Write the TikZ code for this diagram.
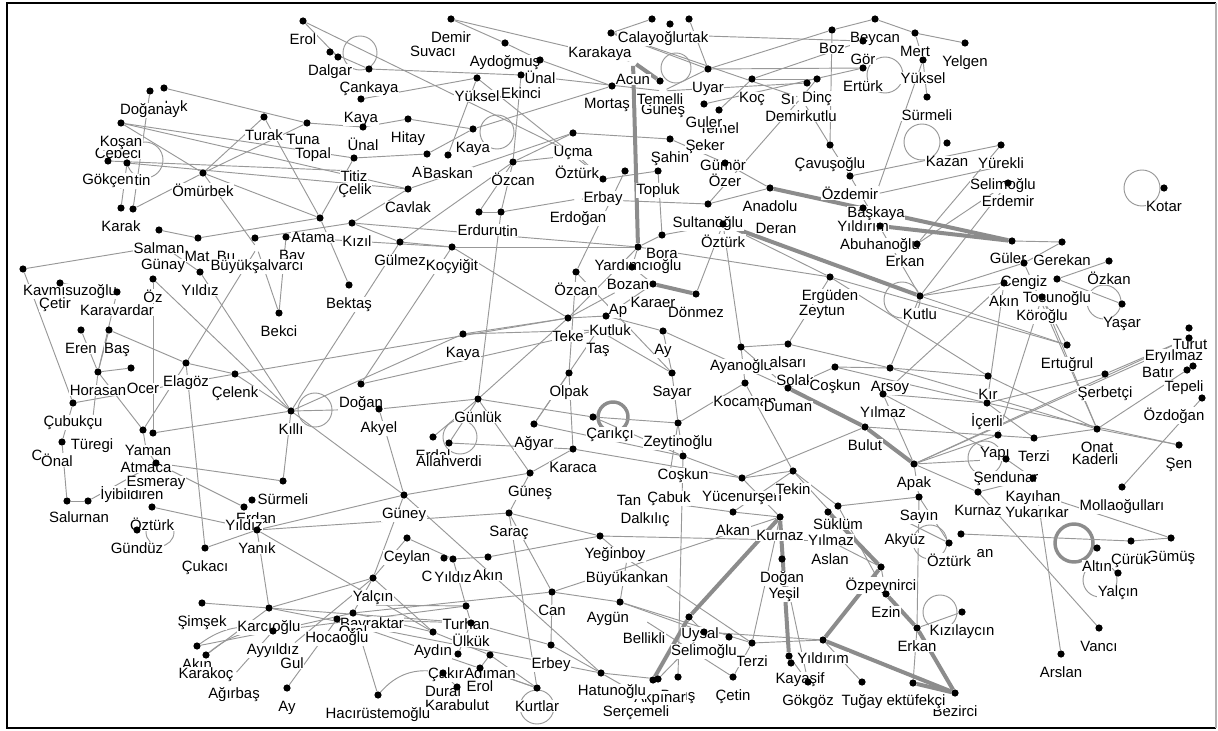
\documentclass[tikz,border=0pt]{standalone}
\usepackage{fontspec}
\setmainfont{Liberation Sans}
\usetikzlibrary{calc}
\pgfdeclarelayer{back}
\pgfdeclarelayer{bg}
\pgfdeclarelayer{fg}
\pgfsetlayers{back,bg,main,fg}
\definecolor{edgec}{RGB}{152,152,152}
\definecolor{thickc}{RGB}{140,140,140}
\newcommand\lblfont{\fontsize{11.2}{13}\selectfont}
\tikzset{
  dotn/.style={circle,fill=black,inner sep=0pt,minimum size=5.4pt},
  hidn/.style={circle,inner sep=0pt,minimum size=5.4pt},
  lbl/.style={font=\lblfont,fill=white,inner sep=0.4pt,anchor=base},
  ed/.style={draw=edgec,line width=0.7pt},
  thk/.style={draw=thickc,line width=3pt},
  lp/.style={draw=edgec,line width=0.7pt},
  lpt/.style={draw=thickc,line width=2.6pt},
}
\newcommand\vtx[4]{\begin{pgfonlayer}{fg}\node[dotn] (#1) at (#2,#3) {};\end{pgfonlayer}\node[lbl] (#1-l) at (#2,#3+23.5) {#4};}
\newcommand\vtxl[6]{\begin{pgfonlayer}{fg}\node[dotn] (#1) at (#2,#3) {};\end{pgfonlayer}\node[lbl] (#1-l) at (#4,#5+5.5) {#6};}
\newcommand\vtxh[4]{\node[hidn] (#1) at (#2,#3) {};\node[lbl] (#1-l) at (#2,#3+23.5) {#4};}
\newcommand\vtxhl[6]{\node[hidn] (#1) at (#2,#3) {};\node[lbl] (#1-l) at (#4,#5+5.5) {#6};}
\newcommand\vtxn[3]{\begin{pgfonlayer}{fg}\node[dotn] (#1) at (#2,#3) {};\end{pgfonlayer}}
\newcommand\lbo[4]{\node[lbl] (#1) at (#2,#3+5.5) {#4};}
\newcommand\lpc[3]{\begin{pgfonlayer}{bg}\draw[lp] (#1,#2) circle[radius=#3*0.75pt];\end{pgfonlayer}}
\newcommand\lpct[3]{\begin{pgfonlayer}{bg}\draw[lpt] (#1,#2) circle[radius=#3*0.75pt];\end{pgfonlayer}}
\begin{document}
\begin{tikzpicture}[x=0.75pt,y=-0.75pt]
\useasboundingbox (0,0) rectangle (1218,731);
\begin{pgfonlayer}{back}
\fill[white] (0,0) rectangle (1218,731);
\end{pgfonlayer}
% ---------- top-left
\vtx{erol}{303}{21}{Erol}
\vtx{dlga}{330}{52}{Dalgar}
\vtxn{dlgb}{338}{57}
\vtx{cank}{369}{69}{Çankaya}
\vtx{kayaA}{361}{99}{Kaya}
\vtx{unalA}{363}{127}{Ünal}
\vtx{hitay}{408}{119}{Hitay}
\vtxh{topal}{313}{135}{Topal}
\vtxl{tuna}{307}{123}{303}{139}{Tuna}
\vtxh{celik}{355}{171}{Çelik}
\vtx{titiz}{354}{158}{Titiz}
\vtx{turak}{264}{117}{Turak}
\vtx{omur}{203}{173}{Ömürbek}
\vtxl{dogk}{164}{88}{176}{106}{Işık}
\vtx{doga}{150}{91}{Doğanay}
\lbo{cebeciL}{118}{153}{Cebeci}
\vtx{kosan}{121}{123}{Koşan}
\vtxl{gin}{127}{163}{133}{180}{Çetin}
\vtx{gokcen}{108}{161}{Gökçen}
\vtx{karak}{121}{208}{Karak}
\vtxn{karakB}{133}{209}
\vtx{salman}{159}{230}{Salman}
\vtxl{mat}{198}{238}{197}{256}{Mat}
\vtxl{bu}{255}{238}{226}{256}{Bu}
\vtxl{bay}{286}{237}{292}{255}{Bay}
\vtxh{gunay}{163}{246}{Günay}
\vtxhl{buyuk}{257}{248}{257}{265}{Büyükşalvarcı}
\vtxl{atama}{320}{218}{313}{237}{Atama}
\vtxl{kizil}{352}{223}{357}{241}{Kızıl}
\vtx{yildizA}{200}{272}{Yıldız}
\vtx{oz}{153}{279}{Öz}
\vtxl{kavm}{23}{269}{70}{290}{Kavmısuzoğlu}
\vtxl{cetir}{60}{283}{55}{303}{Çetir}
\vtx{karav}{117}{292}{Karavardar}
\vtx{eren}{81}{330}{Eren}
\vtxl{bas}{109}{330}{117}{348}{Baş}
\vtxl{ocer}{131}{368}{143}{388}{Ocer}
\vtx{horasan}{98}{372}{Horasan}
\vtx{elagoz}{186}{363}{Elagöz}
\vtx{celenk}{235}{374}{Çelenk}
\vtx{cubuk}{73}{403}{Çubukçu}
\vtx{killi}{291}{411}{Kıllı}
\vtxn{yamanB}{153}{433}
\vtxl{yaman}{143}{430}{148}{450}{Yaman}
\vtxh{turegi}{92}{426}{Türegi}
\lbo{cL}{37}{455}{C}
\vtxl{onal}{62}{442}{57}{461}{Önal}
\vtxh{atmaca}{146}{449}{Atmaca}
\vtxh{iyibil}{132}{476}{İyibildiren}
\vtx{esmeray}{156}{463}{Esmeray}
\vtxl{salur}{67}{501}{79}{517}{Salurnan}
\vtxn{salB}{88}{501}
\vtx{ozturkA}{152}{507}{Öztürk}
\vtx{gunduz}{137}{530}{Gündüz}
\vtx{cukaci}{205}{548}{Çukacı}
\vtx{surmeliA}{283}{481}{Sürmeli}
\vtxl{erdan}{252}{500}{256}{518}{Erdan}
\vtx{yildizB}{244}{507}{Yıldız}
\vtx{yanik}{257}{530}{Yanık}
\vtx{simsek}{202}{603}{Şimşek}
\vtx{karci}{269}{608}{Karcıoğlu}
\vtx{akinA}{197}{646}{Akın}
\vtx{karakoc}{206}{655}{Karakoç}
\vtx{ayyildiz}{273}{631}{Ayyıldız}
\vtxh{gul}{292}{645}{Gul}
\vtxh{agirbas}{234}{675}{Ağırbaş}
\vtx{ayA}{287}{688}{Ay}
% ---------- middle-left
\vtx{bektas}{349}{285}{Bektaş}
\vtx{bekci}{279}{313}{Bekci}
\vtx{gulmez}{400}{242}{Gülmez}
\vtx{kocyigit}{452}{247}{Koçyiğit}
\vtx{cavlak}{408}{189}{Cavlak}
\vtx{akB}{427}{154}{Akın}
\vtx{baskan}{448}{155}{Baskan}
\vtx{kayaB}{473}{129}{Kaya}
\vtx{ozcanA}{513}{162}{Özcan}
\vtx{ucma}{573}{133}{Uçma}
\vtxh{ozturkB}{577}{155}{Öztürk}
\vtx{erbay}{603}{179}{Erbay}
\vtxn{xfive}{625}{171}
\vtxh{erdogan}{578}{199}{Erdoğan}
\vtxl{erduru}{479}{212}{480}{230}{Erduru}
\vtxl{xtin}{501}{212}{510}{231}{tin}
% ---------- top-middle
\vtx{demir}{451}{19}{Demir}
\vtxh{suvaci}{433}{33}{Suvacı}
\vtx{aydog}{505}{43}{Aydoğmuş}
\vtx{unalB}{540}{60}{Ünal}
\vtx{yukselA}{477}{78}{Yüksel}
\vtx{ekinci}{521}{75}{Ekinci}
\vtxl{karakaya}{611}{33}{600}{52}{Karakaya}
\vtxn{calB}{670}{24}
\vtxl{ortak}{689}{19}{690}{37}{Ortak}
\vtxl{calay}{652}{19}{651}{37}{Calayoğlu}
\vtxhl{acun}{633}{62}{633}{79}{Acun}
\vtxl{mortas}{612}{86}{607}{103}{Mortaş}
\vtxh{gunesA}{663}{91}{Güneş}
\vtx{temelli}{660}{81}{Temelli}
\vtx{uyar}{708}{69}{Uyar}
\vtx{temel}{719}{110}{Temel}
\vtx{guler}{704}{104}{Guler}
\vtxh{seker}{705}{127}{Şeker}
\vtxh{gumor}{723}{147}{Gümör}
\vtx{sahin}{670}{139}{Şahin}
\vtx{ozer}{725}{163}{Özer}
\vtx{topluk}{658}{171}{Topluk}
\vtx{koc}{752}{79}{Koç}
\vtxl{si}{807}{83}{788}{99}{Sı}
\vtxh{demirk}{801}{98}{Demirkutlu}
\vtx{dinc}{817}{79}{Dinç}
\vtx{boz}{832}{30}{Boz}
\vtx{beycan}{875}{19}{Beycan}
\vtx{erturk}{863}{68}{Ertürk}
\vtx{gor}{863}{41}{Gör}
\vtx{mert}{915}{33}{Mert}
\vtx{yelgen}{965}{43}{Yelgen}
\vtx{yukselB}{923}{60}{Yüksel}
\vtx{surmeliB}{927}{97}{Sürmeli}
\vtx{kazan}{947}{143}{Kazan}
\vtx{yurekli}{1001}{145}{Yürekli}
\vtxh{selimA}{1003}{166}{Selimoğlu}
\vtx{erdemir}{1008}{183}{Erdemir}
\vtx{kotar}{1164}{188}{Kotar}
\vtx{cavus}{830}{145}{Çavuşoğlu}
\vtx{ozdemir}{850}{176}{Özdemir}
\vtxh{baskaya}{876}{194}{Başkaya}
\vtx{yildirimA}{863}{208}{Yıldırım}
\vtx{abuhan}{880}{226}{Abuhanoğlu}
\vtxh{deran}{776}{210}{Deran}
\vtx{anadolu}{770}{188}{Anadolu}
\vtx{sultan}{708}{204}{Sultanoğlu}
\vtx{ozturkC}{723}{224}{Öztürk}
\vtx{bora}{662}{235}{Bora}
\vtx{yardim}{638}{247}{Yardımcıoğlu}
\vtxl{bozan}{632}{267}{628}{284}{Bozan}
\vtxh{ap}{618}{291}{Ap}
\vtx{karaer}{653}{284}{Karaer}
\vtx{donmez}{696}{294}{Dönmez}
\vtxh{tas}{598}{330}{Taş}
\vtxl{kutluk}{606}{316}{610}{330}{Kutluk}
\vtx{teke}{568}{318}{Teke}
\vtx{ozcanB}{576}{272}{Özcan}
\vtx{ayB}{663}{331}{Ay}
\vtx{sayar}{672}{373}{Sayar}
\vtx{ayanoglu}{741}{347}{Ayanoğlu}
\vtxh{solak}{795}{362}{Solak}
\vtx{alsari}{788}{344}{alsarı}
\vtx{kocaman}{745}{383}{Kocaman}
\vtx{duman}{788}{388}{Duman}
\vtx{coskunA}{835}{367}{Coşkun}
\vtx{arsoy}{890}{368}{Arsoy}
\vtx{yilmazA}{883}{394}{Yılmaz}
\vtx{bulut}{865}{427}{Bulut}
\vtx{zeytin}{678}{423}{Zeytinoğlu}
\vtx{coskunB}{683}{456}{Coşkun}
\vtx{yucen}{742}{478}{Yücenurşen}
\vtx{tekin}{793}{471}{Tekin}
\vtxh{zeytun}{822}{292}{Zeytun}
\vtx{erguden}{830}{277}{Ergüden}
\vtx{kutlu}{920}{296}{Kutlu}
\vtxl{erkanA}{917}{244}{905}{261}{Erkan}
% ---------- right
\vtxl{gule}{1012}{241}{1008}{258}{Güler}
\vtx{gerekan}{1062}{242}{Gerekan}
\vtx{ozkan}{1109}{261}{Özkan}
\vtx{cengiz}{1024}{263}{Cengiz}
\vtx{tosun}{1057}{279}{Tosunoğlu}
\vtx{akinB}{1004}{283}{Akın}
\vtx{koroglu}{1042}{297}{Köroğlu}
\vtx{yasar}{1122}{304}{Yaşar}
\vtx{ertugrul}{1067}{345}{Ertuğrul}
\vtx{serbetci}{1105}{374}{Şerbetçi}
\vtxl{turut}{1189}{328}{1190}{344}{Turut}
\vtxhl{batir}{1158}{355}{1158}{372}{Batır}
\vtxl{eryilmaz}{1189}{338}{1174}{355}{Eryılmaz}
\vtxl{tepeli}{1187}{370}{1184}{386}{Tepeli}
\vtxn{xtep}{1193}{366}
\vtxl{ozdogan}{1202}{398}{1174}{415}{Özdoğan}
\vtx{kir}{988}{376}{Kır}
\vtx{icerli}{987}{403}{İçerli}
\vtxh{kaderli}{1095}{441}{Kaderli}
\vtx{onat}{1097}{429}{Onat}
\vtx{sen}{1179}{445}{Şen}
\vtx{terziA}{1034}{438}{Terzi}
\vtxl{yapi}{998}{435}{995}{452}{Yapı}
\vtx{sendunar}{1006}{459}{Şendunar}
\vtxh{yukarikar}{1037}{494}{Yukarıkar}
\vtx{kayihan}{1033}{478}{Kayıhan}
\vtx{kurnazB}{978}{492}{Kurnaz}
\vtx{molla}{1122}{487}{Mollaoğulları}
\vtx{apak}{914}{464}{Apak}
\vtx{sayin}{919}{497}{Sayın}
\vtxhl{akyuz}{905}{521}{905}{539}{Akyüz}
\vtxl{xan}{961}{534}{985}{552}{an}
\vtx{ozturkD}{949}{543}{Öztürk}
\vtx{altin}{1097}{548}{Altın}
\vtx{gumus}{1171}{538}{Gümüş}
\vtx{curuk}{1131}{541}{Çürük}
\vtx{yalcinB}{1118}{573}{Yalçın}
\vtx{vanci}{1099}{628}{Vancı}
\vtx{arslan}{1061}{654}{Arslan}
\vtx{kizilay}{962}{612}{Kızılaycın}
\vtx{erkanB}{917}{628}{Erkan}
\vtx{bezirci}{955}{693}{Bezirci}
\vtxl{tufekci}{913}{683}{916}{700}{ektüfekçi}
\vtx{tugay}{862}{682}{Tuğay}
\vtx{gokgoz}{808}{682}{Gökgöz}
\vtxl{kayasif}{789}{656}{800}{678}{Kayaşif}
\vtxn{kayasifB}{791}{663}
\vtx{yildirimB}{823}{640}{Yıldırım}
\vtx{terziB}{752}{643}{Terzi}
\vtxn{xseven}{729}{637}
\vtxl{uysal}{689}{617}{700}{633}{Uysal}
\vtx{selimB}{704}{632}{Selimoğlu}
\vtx{cetin}{733}{677}{Çetin}
\vtxl{baris}{678}{677}{678}{695}{Barış}
\vtxl{akpinar}{658}{679}{660}{697}{Akpınar}
\vtxn{xsix}{653}{680}
\vtxhl{serce}{636}{693}{636}{711}{Serçemeli}
\vtxl{hatun}{601}{673}{612}{690}{Hatunoğlu}
\vtxl{aygun}{620}{602}{608}{617}{Aygün}
\vtxh{bellikli}{644}{620}{Bellikli}
\vtx{akan}{733}{512}{Akan}
\vtx{kurnazA}{780}{517}{Kurnaz}
\vtx{suklum}{838}{506}{Süklüm}
\vtxhl{aslan}{830}{541}{830}{559}{Aslan}
\vtxl{yilmazB}{828}{512}{831}{540}{Yılmaz}
\vtxh{yesil}{784}{575}{Yeşil}
\vtx{dogan}{782}{559}{Doğan}
\vtx{ozpey}{881}{567}{Özpeynirci}
\vtx{ezin}{886}{594}{Ezin}
\vtxhl{tan}{628}{483}{629}{500}{Tan}
\vtxh{cabuk}{669}{479}{Çabuk}
\vtxh{dalkilic}{645}{500}{Dalkılıç}
\vtxl{yegin}{600}{536}{615}{553}{Yeğinboy}
\vtxh{buyukank}{627}{559}{Büyükankan}
\vtx{gunesB}{530}{473}{Güneş}
\vtx{sarac}{509}{513}{Saraç}
\vtx{guney}{404}{495}{Güney}
\vtx{ceylan}{407}{538}{Ceylan}
\vtxl{xc}{444}{558}{427}{576}{C}
\vtx{yildizC}{453}{559}{Yıldız}
\vtx{akinC}{488}{557}{Akın}
\vtx{yalcinA}{373}{578}{Yalçın}
\vtx{can}{552}{592}{Can}
\vtx{turhan}{466}{606}{Turhan}
\vtx{ulkuk}{471}{623}{Ülkük}
\vtxh{bayrak}{372}{605}{Bayraktar}
\vtx{oral}{353}{613}{Oral}
\vtx{hocaoglu}{337}{619}{Hocaoğlu}
\vtx{aydin}{433}{632}{Aydın}
\vtxl{cakir}{458}{654}{446}{673}{Çakır}
\vtx{adiman}{490}{655}{Adıman}
\vtx{erolB}{480}{668}{Erol}
\vtx{dural}{443}{673}{Dural}
\vtx{karabulut}{457}{687}{Karabulut}
\vtx{erbey}{551}{645}{Erbey}
\vtx{kurtlar}{537}{688}{Kurtlar}
\vtx{haci}{378}{695}{Hacırüstemoğlu}
% ---------- centre
\vtx{kayaC}{463}{334}{Kaya}
\vtx{olpak}{569}{373}{Olpak}
\vtx{doganA}{361}{384}{Doğan}
\vtx{akyel}{379}{409}{Akyel}
\vtx{gunluk}{478}{399}{Günlük}
\vtxl{carikci}{593}{417}{610}{433}{Çarıkçı}
\vtx{agyar}{534}{424}{Ağyar}
\vtx{erdal}{433}{437}{Erdal}
\vtx{allah}{449}{443}{Allahverdi}
\vtx{karaca}{573}{449}{Karaca}
% ---------- self loops
\lpc{360}{53}{17}
\lpc{145}{160}{18}
\lpc{315}{410}{17}
\lpc{160}{532}{14}
\lpc{497}{132}{17}
\lpc{460}{437}{17}
\lpct{613}{417}{15}
\lpc{922}{142}{18}
\lpc{1142}{188}{18}
\lpc{1104}{302}{17}
\lpc{985}{458}{17}
\lpc{930}{542}{17}
\lpct{1074}{543}{19}
\lpc{1100}{580}{17}
\lpc{940}{612}{17}
\lpc{537}{707}{17}
\lpc{902}{300}{18}
\lpc{885}{75}{18}
\lpc{676}{68}{15}
% ---------- edges
\begin{pgfonlayer}{bg}
\foreach \a/\b in {
erol/ozturkB, dlga/cank, dlgb/erol, dogk/tuna, doga/karakB, kosan/omur, kosan/titiz, kosan/cavlak,
gokcen/celik, gin/cavlak, gin/karak, omur/turak, omur/tuna, omur/karakB, omur/atama, omur/buyuk,
turak/atama, titiz/atama, titiz/akB, tuna/unalA, unalA/hitay, kizil/cavlak, kizil/gulmez, kizil/yardim,
cank/ekinci, kayaA/yukselA, hitay/kayaB, kayaB/mortas, kayaB/akB, yukselA/baskan, yukselA/erbay,
ekinci/ozcanA, ekinci/gunesA, demir/acun, demir/aydog, unalB/mortas, aydog/unalB, cavlak/ucma,
ozcanA/ozturkB, ozcanA/erduru, ozcanA/xtin, ozcanA/gulmez, xtin/erdogan, erduru/xtin, ucma/sahin,
ucma/ozcanA, ozturkB/erbay, erdogan/sultan, erbay/topluk, xfive/ozcanB,
salman/mat, gunay/yildizA, kavm/gunay, kavm/cubuk, cetir/karav, oz/killi, yildizA/killi, oz/yamanB,
eren/horasan, bas/horasan, bas/elagoz, horasan/ocer, karav/horasan, elagoz/celenk, elagoz/yaman,
buyuk/elagoz, buyuk/bekci, bay/bekci, bay/kocyigit, mat/atama, bu/kizil, celenk/killi, cubuk/celenk,
horasan/yaman, elagoz/cukaci, yamanB/killi, cubuk/onal, turegi/horasan, atmaca/yaman, atmaca/esmeray,
onal/salur, salur/salB, salB/esmeray, esmeray/yildizB, esmeray/surmeliA, ozturkA/yanik, cukaci/yanik,
yanik/karci, simsek/karci, akinA/ayyildiz, karakoc/karci, ayA/hocaoglu, gul/yalcinA, agirbas/ayyildiz,
karci/yalcinA, ayyildiz/oral,
atama/bektas, gulmez/killi, kocyigit/doganA, kocyigit/teke, kayaC/teke, kayaC/tas, doganA/tas,
killi/kayaC, killi/akyel, akyel/gunluk, gunluk/carikci, gunluk/xtin, gunluk/teke, gunluk/allah,
erdal/gunluk, gunluk/gunesB, akyel/guney, agyar/olpak, agyar/tas, agyar/coskunB, allah/karaca,
gunesB/karaca, ozcanB/olpak, teke/kutluk, teke/ap, gulmez/kocyigit, kocyigit/yardim, celenk/teke,
killi/guney, killi/surmeliA, guney/yanik, guney/gunesB, guney/yalcinA, guney/hatun, ceylan/yildizC,
ceylan/yalcinA, yildizC/turhan, yildizC/akinC, sarac/can, sarac/kurtlar, akinC/yegin, yalcinA/aydin,
yalcinA/oral, turhan/ulkuk, ulkuk/erbey, aydin/adiman, adiman/erolB, dural/karabulut, erbey/hatun,
hatun/akpinar, can/erbey, can/aygun, kurtlar/adiman, aygun/selimB, yanik/aydin, karci/ulkuk,
hocaoglu/ulkuk, bayrak/turhan, oral/aydin, cakir/ulkuk, haci/oral, erolB/kurtlar,
yardim/bora, yardim/bozan, bozan/karaer, yardim/erguden, bora/ozturkC, ayB/sayar, ayB/duman, ayB/kutluk,
sayar/zeytin, sayar/ozcanB, ozturkC/ayanoglu, ayanoglu/alsari, alsari/erguden, kocaman/zeytin,
kocaman/ayanoglu, duman/coskunA, coskunA/arsoy, arsoy/kutlu, yilmazA/icerli, arsoy/kir, arsoy/onat,
coskunB/zeytin, coskunB/yucen, yucen/tekin, tekin/suklum, yucen/kurnazA, akan/kurnazA, suklum/sayin,
aslan/ozpey, ozpey/ezin, erkanB/kizilay, erkanB/tufekci, yildirimB/terziB, selimB/yildirimB,
uysal/selimB, dogan/kurnazA, gokgoz/kayasif, tugay/yildirimB, cetin/terziB, apak/sayin, apak/kurnazB,
sayin/ozturkD, akyuz/ozturkD, xan/curuk, curuk/gumus, yukarikar/gumus, kurnazB/vanci, yukarikar/arslan,
kurnazB/kayihan, sendunar/kayihan, molla/ozdogan, sayin/erkanB, apak/yilmazA, tekin/ozpey,
donmez/ozturkC, sahin/ozer, ozer/anadolu, sultan/anadolu, topluk/bora, demirk/sultan,
yurekli/ozdemir, selimA/baskaya, erdemir/kutlu, yukselB/baskaya, mert/yukselB, mert/yelgen, beycan/mert,
yukselB/surmeliB, boz/beycan, boz/uyar, boz/cavus, koc/dinc, koc/gor, koc/temel, uyar/erturk,
dinc/demirk, demirk/cavus, cavus/ozdemir, gule/gerekan, cengiz/gerekan, tosun/ozkan, tosun/yasar,
kutlu/akinB, koroglu/onat, cengiz/onat, koroglu/ertugrul, eryilmaz/serbetci, eryilmaz/apak, batir/apak,
tepeli/onat, onat/sen, kir/onat, icerli/sen, icerli/terziA, terziA/onat, yapi/apak, erguden/ertugrul,
erkanA/yurekli, akinB/icerli, uyar/karakaya, calay/karakaya, ortak/uyar, gunesA/uyar, gunesA/si,
gor/karakaya, erturk/guler, karakaya/demirk,
dalkilic/akan, coskunB/baris, yegin/aslan, buyukank/terziB, aygun/terziB, bellikli/cetin, cabuk/zeytin,
teke/yardim, kutluk/karaer, tas/sayar, carikci/zeytin, carikci/coskunB, karaca/yucen, gunesB/sarac,
sarac/yegin, olpak/karaca, can/kurnazA, erguden/kir, coskunA/icerli, bulut/terziA, kocaman/tekin,
alsari/arsoy, akinB/yilmazA, koroglu/yapi, ozdemir/kutlu, sendunar/apak, serbetci/icerli,
bulut/yucen, yilmazA/sendunar, kutlu/cengiz, erdemir/erkanA, ertugrul/kutlu, ayanoglu/duman,
ozturkC/erguden, tekin/akan, suklum/ezin, dogan/gokgoz, kurnazA/terziB,
selimB/akpinar, hatun/serce, yegin/buyukank, buyukank/aygun,
karci/hatun, hocaoglu/kurtlar, oral/can, ayyildiz/turhan, yanik/sarac}
{\draw[ed] (\a) -- (\b);}
\foreach \a/\b in {acun/yardim, acun/temelli, ozturkC/kutlu, anadolu/gule, abuhan/gule, duman/bulut,
bulut/apak, kurnazA/uysal, kurnazA/kayasif, ezin/erkanB, erkanB/bezirci, yildirimB/bezirci,
tufekci/bezirci, xsix/uysal, karaer/donmez, yilmazB/ozpey, yildirimB/ozpey}
{\draw[thk] (\a) -- (\b);}
\draw[ed] (akinA) to[bend left=25] (ayyildiz);
\draw[ed] (karakoc) to[bend left=20] (ayyildiz);
\draw[ed] (haci) to[bend left=30] (dural);
\end{pgfonlayer}
% ---------- frame
\draw[line width=1.5pt] (1216,3.5) -- (7,3.5) -- (7,728) -- (1216,728);
\draw[line width=1pt,gray!60] (1216,3.5) -- (1216,728);
\end{tikzpicture}
\end{document}
